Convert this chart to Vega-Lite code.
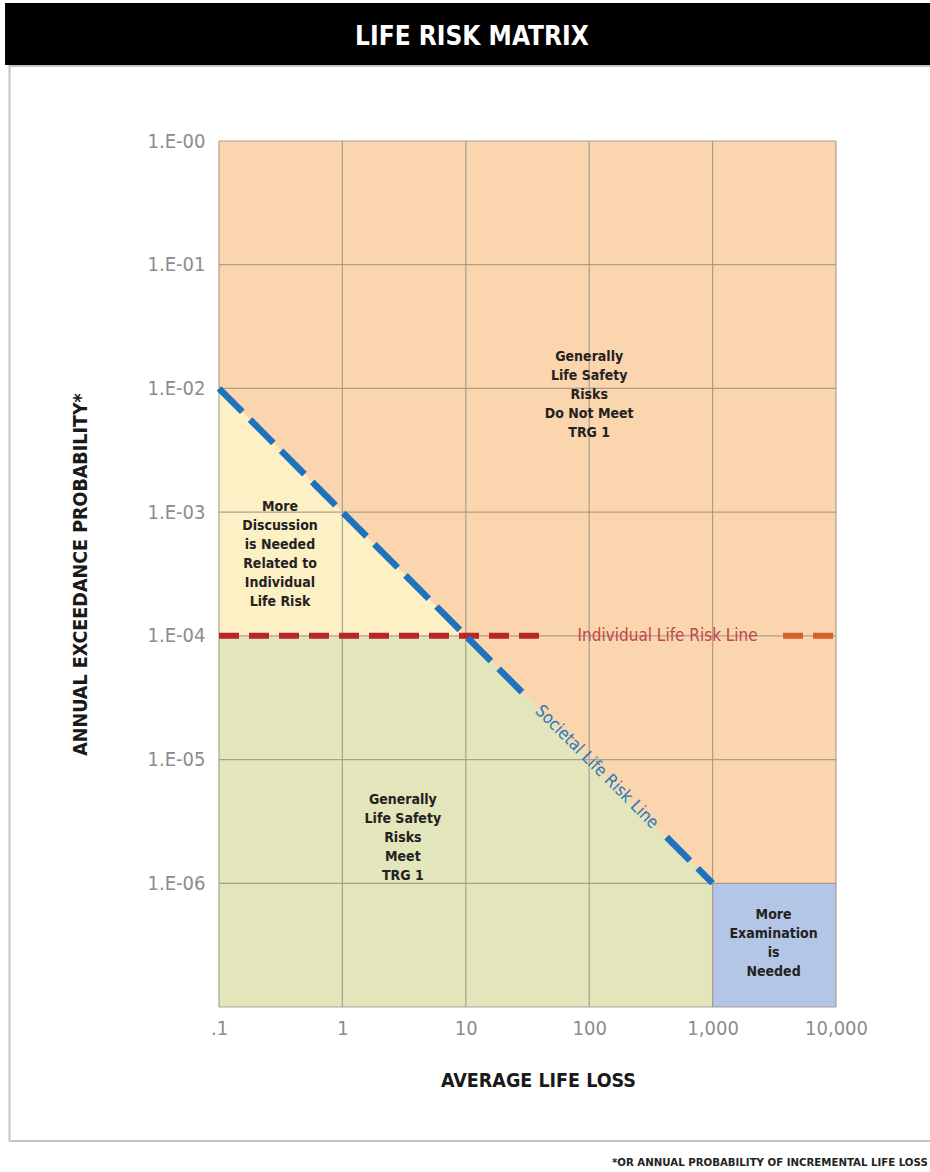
{
  "$schema": "https://vega.github.io/schema/vega-lite/v6.json",
  "width": 617,
  "height": 866,
  "autosize": {"type": "none"},
  "padding": {"left": 219, "top": 141, "right": 94, "bottom": 165},
  "background": "white",
  "config": {"view": {"stroke": null}},
  "datasets": {
    "frame": [{"x": 0.002006, "x2": 69660, "y": 4.04, "y2": 8.25e-9}],
    "bar": [{"x": 0.001845, "x2": 69660, "y": 13.05, "y2": 4.115}],
    "heading": [{"x": 11.2, "y": 6.93, "label": "LIFE RISK MATRIX"}],
    "orange": [{"x": 0.1, "x2": 10000, "y": 1, "y2": 1e-7}],
    "yellow": [{"x": 0.1, "y": 0.01, "y2": 0.0001}, {"x": 10, "y": 0.0001, "y2": 0.0001}],
    "green": [{"x": 0.1, "y": 0.0001, "y2": 1e-7}, {"x": 10, "y": 0.0001, "y2": 1e-7}, {"x": 1000, "y": 1e-6, "y2": 1e-7}],
    "blue": [{"x": 1000, "x2": 10000, "y": 1e-6, "y2": 1e-7}],
    "xgrid": [{"x": 0.1}, {"x": 1}, {"x": 10}, {"x": 100}, {"x": 1000}, {"x": 10000}],
    "ygrid": [{"y": 1}, {"y": 0.1}, {"y": 0.01}, {"y": 0.001}, {"y": 0.0001}, {"y": 1e-5}, {"y": 1e-6}, {"y": 1e-7}],
    "indivA": [{"x": 0.1, "y": 0.0001}, {"x": 47, "y": 0.0001}],
    "indivB": [{"x": 3722, "y": 0.0001}, {"x": 10000, "y": 0.0001}],
    "societal": [{"seg": "a", "x": 0.1, "y": 0.01}, {"seg": "a", "x": 29.5, "y": 3.39e-5}, {"seg": "b", "x": 424, "y": 2.36e-6}, {"seg": "b", "x": 1000, "y": 1e-6}],
    "regionLabels": [
      {"x": 100, "y": 0.01795, "label": "Generally\nLife Safety\nRisks\nDo Not Meet\nTRG 1"},
      {"x": 0.312, "y": 0.0011, "label": "More\nDiscussion\nis Needed\nRelated to\nIndividual\nLife Risk"},
      {"x": 3.09, "y": 4.71e-6, "label": "Generally\nLife Safety\nRisks\nMeet\nTRG 1"},
      {"x": 3119, "y": 5.54e-7, "label": "More\nExamination\nis\nNeeded"}
    ],
    "indivLabel": [{"x": 432, "y": 0.0001, "label": "Individual Life Risk Line"}],
    "socLabel": [{"x": 115, "y": 8.7e-6, "label": "Societal Life Risk Line"}],
    "footnote": [{"x": 153, "y": 5.48e-9, "label": "*OR ANNUAL PROBABILITY OF INCREMENTAL LIFE LOSS"}]
  },
  "layer": [
    {
      "data": {"name": "xgrid"},
      "mark": {"type": "rule", "color": "#9e9488", "strokeWidth": 1.2, "opacity": 0},
      "encoding": {
        "x": {
          "field": "x", "type": "quantitative",
          "scale": {"type": "log", "domain": [0.1, 10000], "nice": false},
          "axis": {
            "orient": "bottom",
            "zindex": 1,
            "values": [0.1, 1, 10, 100, 1000, 10000],
            "labelExpr": "datum.value < 1 ? '.1' : format(datum.value, ',')",
            "title": "AVERAGE LIFE LOSS",
            "domain": false, "ticks": false, "grid": false,
            "labelFlush": false, "labelOverlap": false, "labelBound": false,
            "labelPadding": 11, "labelFontSize": 20, "labelColor": "#8c8c8c",
            "labelFont": "DejaVu Sans Condensed, sans-serif",
            "titleFont": "DejaVu Sans Condensed, sans-serif",
            "titleFontSize": 19.5, "titleFontWeight": "bold", "titleColor": "#1a1a1a",
            "titlePadding": 33,
            "titleX": 319
          }
        }
      }
    },
    {
      "data": {"name": "ygrid"},
      "mark": {"type": "rule", "color": "#9e9488", "strokeWidth": 1.2, "opacity": 0},
      "encoding": {
        "y": {
          "field": "y", "type": "quantitative",
          "scale": {"type": "log", "domain": [1e-7, 1], "nice": false},
          "axis": {
            "orient": "left",
            "zindex": 1,
            "values": [1, 0.1, 0.01, 0.001, 0.0001, 1e-5, 1e-6],
            "labelExpr": "'1.E-0' + round(abs(log(datum.value) / LN10))",
            "title": "ANNUAL EXCEEDANCE PROBABILITY*",
            "domain": false, "ticks": false, "grid": false,
            "labelFlush": false, "labelOverlap": false, "labelBound": false,
            "labelPadding": 14, "labelFontSize": 20, "labelColor": "#8c8c8c",
            "labelFont": "DejaVu Sans Condensed, sans-serif",
            "titleFont": "DejaVu Sans Condensed, sans-serif",
            "titleFontSize": 19.5, "titleFontWeight": "bold", "titleColor": "#1a1a1a",
            "titlePadding": 57
          }
        }
      }
    },
    {
      "data": {"name": "frame"},
      "mark": {"type": "rect", "filled": false, "fillOpacity": 0, "stroke": "#c4c4c4", "strokeWidth": 2, "clip": false},
      "encoding": {
        "x": {"field": "x", "type": "quantitative", "scale": {"type": "log", "domain": [0.1, 10000], "nice": false}},
        "x2": {"field": "x2"},
        "y": {"field": "y", "type": "quantitative", "scale": {"type": "log", "domain": [1e-7, 1], "nice": false}},
        "y2": {"field": "y2"}
      }
    },
    {
      "data": {"name": "bar"},
      "mark": {"type": "rect", "fill": "#000000", "clip": false},
      "encoding": {
        "x": {"field": "x", "type": "quantitative", "scale": {"type": "log", "domain": [0.1, 10000], "nice": false}},
        "x2": {"field": "x2"},
        "y": {"field": "y", "type": "quantitative", "scale": {"type": "log", "domain": [1e-7, 1], "nice": false}},
        "y2": {"field": "y2"}
      }
    },
    {
      "data": {"name": "heading"},
      "mark": {"type": "text", "color": "#ffffff", "font": "DejaVu Sans Condensed, sans-serif", "fontWeight": "bold", "fontSize": 26, "align": "center", "baseline": "middle", "clip": false},
      "encoding": {
        "x": {"field": "x", "type": "quantitative", "scale": {"type": "log", "domain": [0.1, 10000], "nice": false}},
        "y": {"field": "y", "type": "quantitative", "scale": {"type": "log", "domain": [1e-7, 1], "nice": false}},
        "text": {"field": "label"}
      }
    },
    {
      "data": {"name": "orange"},
      "mark": {"type": "rect", "fill": "#fbd5ad"},
      "encoding": {
        "x": {"field": "x", "type": "quantitative", "scale": {"type": "log", "domain": [0.1, 10000], "nice": false}},
        "x2": {"field": "x2"},
        "y": {"field": "y", "type": "quantitative", "scale": {"type": "log", "domain": [1e-7, 1], "nice": false}},
        "y2": {"field": "y2"}
      }
    },
    {
      "data": {"name": "yellow"},
      "mark": {"type": "area", "fill": "#fdf0c4", "opacity": 1},
      "encoding": {
        "x": {"field": "x", "type": "quantitative", "scale": {"type": "log", "domain": [0.1, 10000], "nice": false}},
        "y": {"field": "y", "type": "quantitative", "scale": {"type": "log", "domain": [1e-7, 1], "nice": false}},
        "y2": {"field": "y2"}
      }
    },
    {
      "data": {"name": "green"},
      "mark": {"type": "area", "fill": "#e3e5bb", "opacity": 1},
      "encoding": {
        "x": {"field": "x", "type": "quantitative", "scale": {"type": "log", "domain": [0.1, 10000], "nice": false}},
        "y": {"field": "y", "type": "quantitative", "scale": {"type": "log", "domain": [1e-7, 1], "nice": false}},
        "y2": {"field": "y2"}
      }
    },
    {
      "data": {"name": "blue"},
      "mark": {"type": "rect", "fill": "#b4c6e5"},
      "encoding": {
        "x": {"field": "x", "type": "quantitative", "scale": {"type": "log", "domain": [0.1, 10000], "nice": false}},
        "x2": {"field": "x2"},
        "y": {"field": "y", "type": "quantitative", "scale": {"type": "log", "domain": [1e-7, 1], "nice": false}},
        "y2": {"field": "y2"}
      }
    },
    {
      "data": {"name": "xgrid"},
      "mark": {"type": "rule", "color": "#9e9488", "strokeWidth": 1.2, "opacity": 0.85},
      "encoding": {
        "x": {"field": "x", "type": "quantitative", "scale": {"type": "log", "domain": [0.1, 10000], "nice": false}}
      }
    },
    {
      "data": {"name": "ygrid"},
      "mark": {"type": "rule", "color": "#9e9488", "strokeWidth": 1.2, "opacity": 0.85},
      "encoding": {
        "y": {"field": "y", "type": "quantitative", "scale": {"type": "log", "domain": [1e-7, 1], "nice": false}}
      }
    },
    {
      "data": {"name": "indivA"},
      "mark": {"type": "line", "color": "#b8252a", "strokeWidth": 6, "strokeDash": [20, 10], "strokeCap": "butt"},
      "encoding": {
        "x": {"field": "x", "type": "quantitative", "scale": {"type": "log", "domain": [0.1, 10000], "nice": false}},
        "y": {"field": "y", "type": "quantitative", "scale": {"type": "log", "domain": [1e-7, 1], "nice": false}}
      }
    },
    {
      "data": {"name": "indivB"},
      "mark": {"type": "line", "color": "#d4602b", "strokeWidth": 6, "strokeDash": [20, 10], "strokeCap": "butt"},
      "encoding": {
        "x": {"field": "x", "type": "quantitative", "scale": {"type": "log", "domain": [0.1, 10000], "nice": false}},
        "y": {"field": "y", "type": "quantitative", "scale": {"type": "log", "domain": [1e-7, 1], "nice": false}}
      }
    },
    {
      "data": {"name": "societal"},
      "mark": {"type": "line", "color": "#1f72bd", "strokeWidth": 6.5, "strokeDash": [33, 11], "strokeCap": "butt"},
      "encoding": {
        "x": {"field": "x", "type": "quantitative", "scale": {"type": "log", "domain": [0.1, 10000], "nice": false}},
        "y": {"field": "y", "type": "quantitative", "scale": {"type": "log", "domain": [1e-7, 1], "nice": false}},
        "detail": {"field": "seg"}
      }
    },
    {
      "data": {"name": "regionLabels"},
      "mark": {"type": "text", "color": "#222222", "font": "DejaVu Sans Condensed, sans-serif", "fontWeight": "bold", "fontSize": 14, "lineHeight": 19, "lineBreak": "\n", "align": "center", "baseline": "middle"},
      "encoding": {
        "x": {"field": "x", "type": "quantitative", "scale": {"type": "log", "domain": [0.1, 10000], "nice": false}},
        "y": {"field": "y", "type": "quantitative", "scale": {"type": "log", "domain": [1e-7, 1], "nice": false}},
        "text": {"field": "label"}
      }
    },
    {
      "data": {"name": "indivLabel"},
      "mark": {"type": "text", "color": "#c0474a", "font": "DejaVu Sans Condensed, sans-serif", "fontSize": 17, "align": "center", "baseline": "middle"},
      "encoding": {
        "x": {"field": "x", "type": "quantitative", "scale": {"type": "log", "domain": [0.1, 10000], "nice": false}},
        "y": {"field": "y", "type": "quantitative", "scale": {"type": "log", "domain": [1e-7, 1], "nice": false}},
        "text": {"field": "label"}
      }
    },
    {
      "data": {"name": "socLabel"},
      "mark": {"type": "text", "color": "#2f78bb", "font": "DejaVu Sans Condensed, sans-serif", "fontSize": 17, "align": "center", "baseline": "middle", "angle": 45},
      "encoding": {
        "x": {"field": "x", "type": "quantitative", "scale": {"type": "log", "domain": [0.1, 10000], "nice": false}},
        "y": {"field": "y", "type": "quantitative", "scale": {"type": "log", "domain": [1e-7, 1], "nice": false}},
        "text": {"field": "label"}
      }
    },
    {
      "data": {"name": "footnote"},
      "mark": {"type": "text", "color": "#222222", "font": "DejaVu Sans, sans-serif", "fontWeight": "bold", "fontSize": 10.2, "align": "left", "baseline": "middle", "clip": false},
      "encoding": {
        "x": {"field": "x", "type": "quantitative", "scale": {"type": "log", "domain": [0.1, 10000], "nice": false}},
        "y": {"field": "y", "type": "quantitative", "scale": {"type": "log", "domain": [1e-7, 1], "nice": false}},
        "text": {"field": "label"}
      }
    }
  ]
}
